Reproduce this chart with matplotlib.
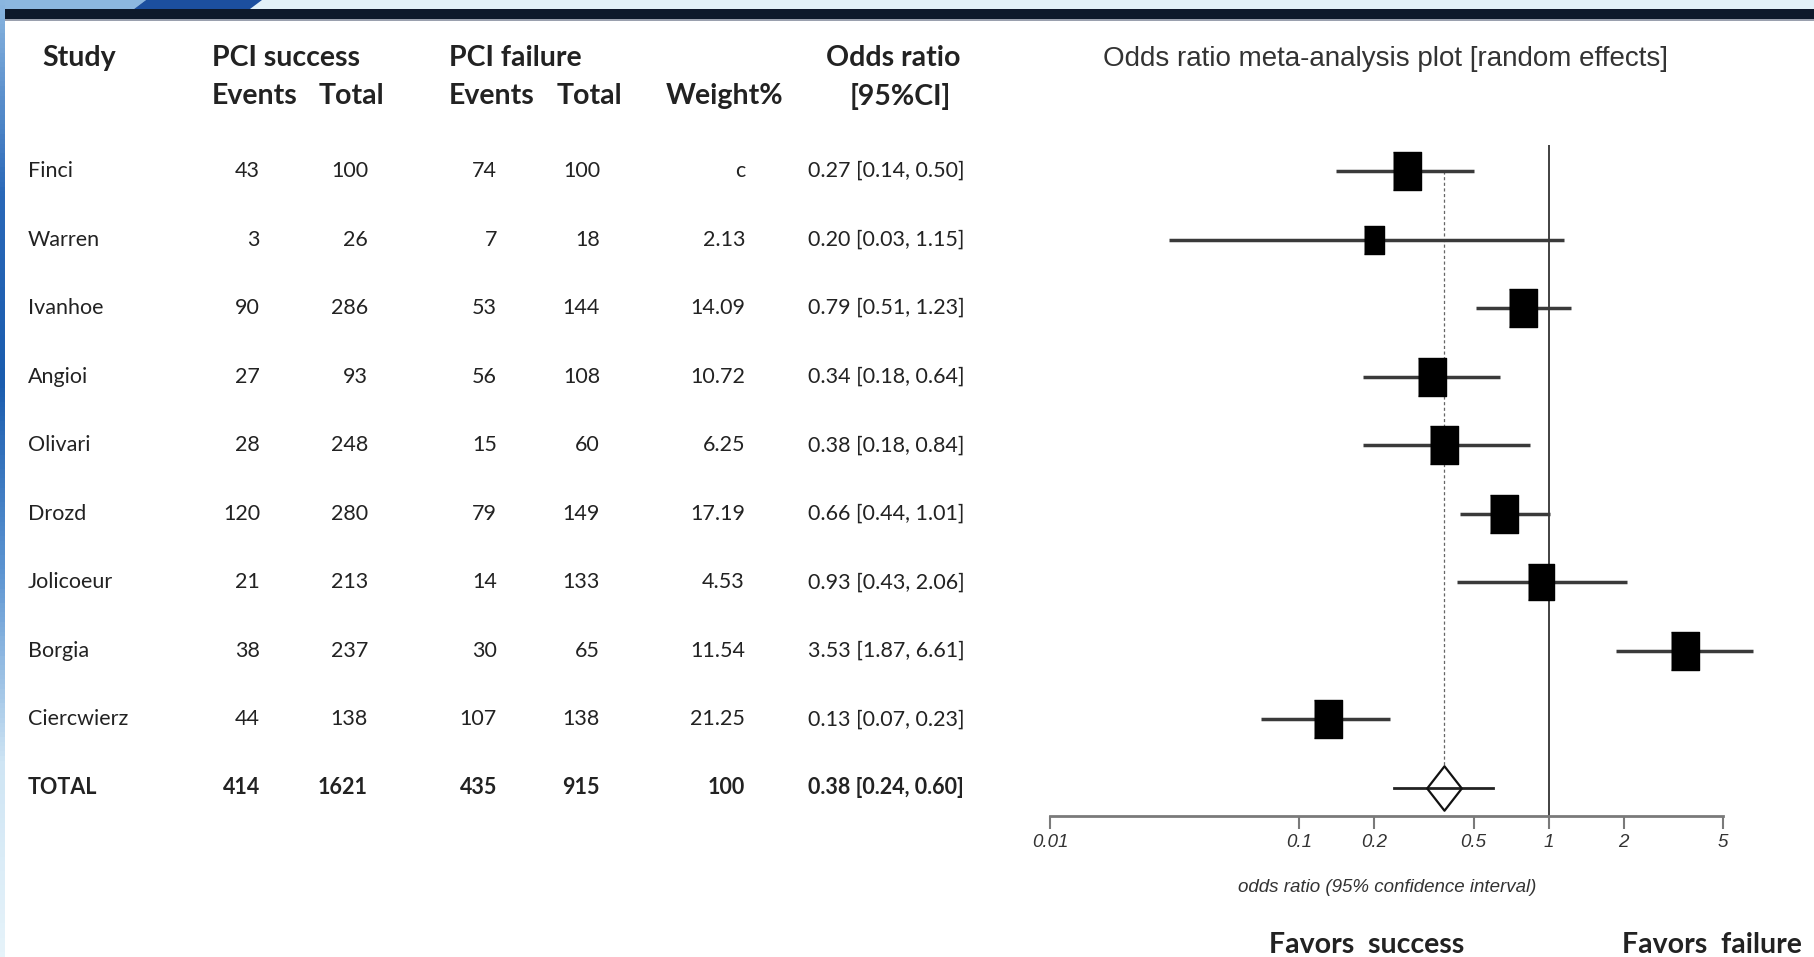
import numpy as np
import matplotlib
matplotlib.use("Agg")
import matplotlib.pyplot as plt
from matplotlib import transforms
from matplotlib.colors import LinearSegmentedColormap
from matplotlib.patches import Polygon, Rectangle
from matplotlib.path import Path

# study table
studies = ["Finci", "Warren", "Ivanhoe", "Angioi", "Olivari", "Drozd",
           "Jolicoeur", "Borgia", "Ciercwierz"]
succ_events = [43, 3, 90, 27, 28, 120, 21, 38, 44]
succ_total = [100, 26, 286, 93, 248, 280, 213, 237, 138]
fail_events = [74, 7, 53, 56, 15, 79, 14, 30, 107]
fail_total = [100, 18, 144, 108, 60, 149, 133, 65, 138]
weights = ["c", "2.13", "14.09", "10.72", "6.25", "17.19", "4.53", "11.54", "21.25"]
odds = [0.27, 0.20, 0.79, 0.34, 0.38, 0.66, 0.93, 3.53, 0.13]
ci_lo = [0.14, 0.03, 0.51, 0.18, 0.18, 0.44, 0.43, 1.87, 0.07]
ci_hi = [0.50, 1.15, 1.23, 0.64, 0.84, 1.01, 2.06, 6.61, 0.23]

# pooled (random effects)
total_counts = [414, 1621, 435, 915]
total_weight = "100"
total_or = 0.38
total_lo = 0.24
total_hi = 0.60

xticks = [0.01, 0.1, 0.2, 0.5, 1, 2, 5]
xtick_labels = ["0.01", "0.1", "0.2", "0.5", "1", "2", "5"]

W, H = 1814, 957
fig = plt.figure(figsize=(W / 100, H / 100), dpi=100)
fig.patch.set_facecolor("white")

# background axes in pixel units for the frame and table text
bg = fig.add_axes([0, 0, 1, 1], zorder=0)
bg.axis("off")

# slide frame: top band, swoosh, dark bar, left strip
bg.add_patch(Rectangle((0, 0), W, 9, color="#e2f1f8", lw=0))
bg.add_patch(Polygon([(0, 0), (146, 0), (134, 9), (0, 9)], color="#8cb7e0", lw=0))
bg.add_patch(Polygon([(146, 0), (262, 0), (250, 9), (134, 9)], color="#1c4f9f", lw=0))
bg.add_patch(Rectangle((5, 9), W, 10, color="#0e192b", lw=0))
bg.add_patch(Rectangle((5, 19), W, 2, color="#9aa0ae", lw=0))
strip = LinearSegmentedColormap.from_list(
    "strip", ["#8ab6e0", "#2a68b8", "#1a5cae", "#5d95d2", "#cfe5f4", "#e6f3fa"])
bg.imshow(np.linspace(0, 1, 200).reshape(-1, 1), cmap=strip, aspect="auto",
          extent=(0, 5, H, 0), zorder=1)
bg.set_xlim(0, W)
bg.set_ylim(H, 0)

# forest plot axes (log odds ratio)
ax_left, ax_right = 1050, 1723
ax_top, ax_bottom = 145, 816
row0_px, row9_px = 171, 788
ax = fig.add_axes([ax_left / W, 1 - ax_bottom / H, (ax_right - ax_left) / W,
                   (ax_bottom - ax_top) / H], zorder=2)
ax.patch.set_alpha(0)
ax.set_xscale("log")
ax.set_xlim(0.01, 5)
row_gap = (row9_px - row0_px) / 9
ax.set_ylim(9 + (ax_bottom - row9_px) / row_gap, -(row0_px - ax_top) / row_gap)

n = len(studies)
rows = np.arange(n)
wnum = np.array([float(w) if w.replace(".", "").isdigit() else np.nan for w in weights])
scale = np.clip(0.55 + np.nan_to_num(wnum, nan=12) / 12, 0.6, 1.0)

box = [(-0.37, -0.5), (0.37, -0.5), (0.37, 0.5), (-0.37, 0.5)]
for i in rows:
    ax.plot([ci_lo[i], ci_hi[i]], [i, i], color="#3a3a3a", lw=2.5,
            solid_capstyle="butt", clip_on=False, zorder=3)
    ax.plot(odds[i], i, marker=box, ms=28 * scale[i], color="black",
            mec="black", clip_on=False, zorder=4)

# pooled estimate
ax.plot([total_lo, total_hi], [n, n], color="#222222", lw=2.0, zorder=3)
diamond = Path([(0, 0.5), (0.39, 0), (0, -0.5), (-0.39, 0), (0, 0.5)],
               [Path.MOVETO, Path.LINETO, Path.LINETO, Path.LINETO, Path.CLOSEPOLY])
ax.plot(total_or, n, marker=diamond, ms=32, mfc="none", mec="#111111",
        mew=1.6, zorder=4)
ax.vlines(total_or, 0, n - 23 / row_gap, colors="#666666", lw=0.9,
          linestyles=(0, (2.5, 2)), zorder=2)
ax.axvline(1, color="#333333", lw=1.3, zorder=2)

for side in ["top", "left", "right"]:
    ax.spines[side].set_visible(False)
ax.spines["bottom"].set_bounds(0.01, 5)
ax.spines["bottom"].set_color("#7a7a7a")
ax.spines["bottom"].set_linewidth(2)
ax.set_yticks([])
ax.xaxis.set_minor_locator(matplotlib.ticker.NullLocator())
ax.set_xticks(xticks)
ax.set_xticklabels(xtick_labels, fontfamily=["Liberation Sans", "DejaVu Sans"],
                   fontstyle="italic", fontsize=13.5, color="#333333")
ax.tick_params(axis="x", length=9, width=1.5, color="#7a7a7a", pad=4)

# table text, rows aligned to forest plot rows
tr = transforms.blended_transform_factory(bg.transData, ax.transData)
body = dict(family=["Lato", "DejaVu Sans"], fontsize=15.5, color="#222222",
            va="center", transform=tr)
col_right = [260, 368, 497, 600, 745]
for i in rows:
    bg.text(28, i, studies[i], ha="left", **body)
    vals = [succ_events[i], succ_total[i], fail_events[i], fail_total[i], weights[i]]
    for x, v in zip(col_right, vals):
        bg.text(x, i, str(v), ha="right", **body)
    bg.text(808, i, f"{odds[i]:.2f} [{ci_lo[i]:.2f}, {ci_hi[i]:.2f}]", ha="left", **body)

bold = dict(body, fontweight="bold")
bg.text(28, n, "TOTAL", ha="left", **bold)
for x, v in zip(col_right, total_counts + [total_weight]):
    bg.text(x, n, str(v), ha="right", **bold)
bg.text(808, n, f"{total_or:.2f} [{total_lo:.2f}, {total_hi:.2f}]", ha="left", **bold)

# column headers
head = dict(family=["Lato", "DejaVu Sans"], fontsize=20.5, fontweight="bold",
            color="#222222", va="center")
bg.text(42, 58, "Study", ha="left", **head)
bg.text(212, 58, "PCI success", ha="left", **head)
bg.text(212, 96, "Events", ha="left", **head)
bg.text(319, 96, "Total", ha="left", **head)
bg.text(449, 58, "PCI failure", ha="left", **head)
bg.text(449, 96, "Events", ha="left", **head)
bg.text(557, 96, "Total", ha="left", **head)
bg.text(666, 96, "Weight%", ha="left", **head)
bg.text(893, 58, "Odds ratio", ha="center", **head)
bg.text(900, 96, "[95%CI]", ha="center", **head)

bg.text(1103, 59, "Odds ratio meta-analysis plot [random effects]", ha="left",
        va="center", family=["Liberation Sans", "DejaVu Sans"], fontsize=20,
        color="#333333")
bg.text(1387, 887, "odds ratio (95% confidence interval)", ha="center",
        va="center", family=["Liberation Sans", "DejaVu Sans"], fontstyle="italic",
        fontsize=13.5, color="#333333")
bg.text(1367, 945, "Favors  success", ha="center", **head)
bg.text(1712, 945, "Favors  failure", ha="center", **head)

fig.savefig("out.png", dpi=100, facecolor="white")
